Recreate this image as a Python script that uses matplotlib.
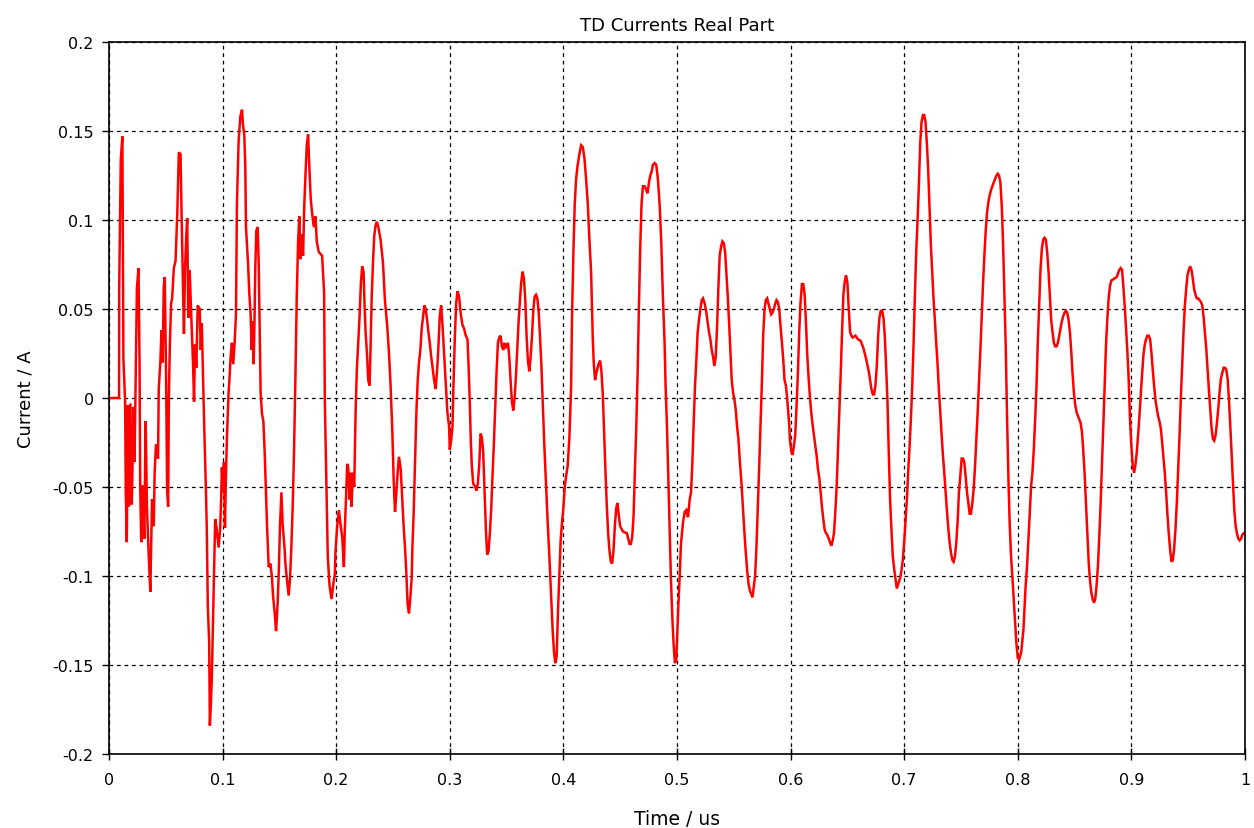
import numpy as np
import matplotlib
matplotlib.use('Agg')
import matplotlib.pyplot as plt

win_0 = [(0.0, 0.0), (0.0089, 0.0), (0.0090, 0.062), (0.0104, 0.134), (0.0118, 0.147), (0.0127, 0.022),
         (0.0142, -0.002), (0.0148, -0.053), (0.0157, -0.081), (0.0166, -0.004), (0.0178, -0.061),
         (0.0189, -0.003), (0.0201, -0.060), (0.0216, -0.005), (0.0225, -0.036), (0.0237, 0.020),
         (0.0246, 0.062), (0.0260, 0.073), (0.0269, 0.021), (0.0275, -0.050), (0.0284, -0.081),
         (0.0296, -0.049), (0.0311, -0.079), (0.0323, -0.013), (0.0334, -0.061), (0.0349, -0.087),
         (0.0364, -0.109), (0.0379, -0.057), (0.0394, -0.072), (0.0402, -0.042), (0.0414, -0.026),
         (0.0432, -0.034), (0.0438, 0.005), (0.0453, 0.021), (0.0462, 0.038), (0.0473, 0.020),
         (0.0482, 0.062), (0.0491, 0.068), (0.0503, 0.011), (0.0512, -0.052), (0.0521, -0.061),
         (0.0527, 0.000), (0.0536, 0.030), (0.0547, 0.053), (0.0556, 0.056), (0.0571, 0.073),
         (0.0586, 0.077), (0.0601, 0.103), (0.0615, 0.138), (0.0630, 0.137), (0.0639, 0.103),
         (0.0651, 0.065), (0.0660, 0.036), (0.0669, 0.072), (0.0681, 0.092), (0.0689, 0.101),
         (0.0698, 0.045), (0.0710, 0.072), (0.0728, 0.041), (0.0740, 0.019), (0.0749, -0.002),
         (0.0757, 0.030), (0.0769, 0.017), (0.0781, 0.052), (0.0799, 0.050), (0.0808, 0.027),
         (0.0817, 0.042), (0.0828, 0.012), (0.0840, -0.020), (0.0852, -0.048), (0.0861, -0.073),
         (0.0870, -0.117), (0.0882, -0.137), (0.0888, -0.184), (0.0897, -0.172), (0.0905, -0.158),
         (0.0917, -0.121), (0.0926, -0.094), (0.0935, -0.068), (0.0947, -0.073), (0.0965, -0.084)]

win_1 = [(0.0979, -0.073), (0.0988, -0.055), (0.0994, -0.039), (0.1003, -0.053), (0.1012, -0.036),
         (0.1021, -0.073), (0.1029, -0.045), (0.1038, -0.023), (0.1053, 0.003), (0.1059, 0.009),
         (0.1071, 0.023), (0.1082, 0.031), (0.1094, 0.019), (0.1106, 0.031), (0.1118, 0.047),
         (0.1126, 0.108), (0.1141, 0.144), (0.1156, 0.158), (0.1171, 0.162), (0.1179, 0.154),
         (0.1191, 0.148), (0.1200, 0.130), (0.1206, 0.096), (0.1224, 0.076), (0.1235, 0.059),
         (0.1247, 0.047), (0.1256, 0.027), (0.1265, 0.043), (0.1274, 0.019), (0.1282, 0.047),
         (0.1288, 0.073), (0.1297, 0.094), (0.1309, 0.096), (0.1318, 0.076), (0.1326, 0.041),
         (0.1335, 0.003), (0.1347, -0.009), (0.1359, -0.013), (0.1371, -0.031), (0.1391, -0.071),
         (0.1406, -0.095), (0.1421, -0.093), (0.1435, -0.101), (0.1444, -0.111), (0.1459, -0.121),
         (0.1471, -0.131), (0.1485, -0.115), (0.1494, -0.099), (0.1506, -0.071), (0.1518, -0.053),
         (0.1529, -0.071), (0.1544, -0.083), (0.1553, -0.093), (0.1568, -0.103), (0.1582, -0.111),
         (0.1594, -0.101), (0.1606, -0.083), (0.1618, -0.059), (0.1629, -0.030), (0.1641, 0.011),
         (0.1653, 0.057), (0.1665, 0.088), (0.1676, 0.102), (0.1685, 0.078), (0.1694, 0.092),
         (0.1709, 0.080), (0.1718, 0.106), (0.1729, 0.124), (0.1741, 0.142), (0.1753, 0.148),
         (0.1765, 0.128), (0.1776, 0.112), (0.1788, 0.104), (0.1803, 0.096), (0.1818, 0.102),
         (0.1829, 0.088), (0.1847, 0.082), (0.1876, 0.080), (0.1894, 0.059), (0.1900, -0.001),
         (0.1912, -0.041), (0.1926, -0.089), (0.1941, -0.105), (0.1959, -0.113), (0.1974, -0.105),
         (0.1988, -0.099)]

win_2 = [(0.1994, -0.086), (0.2009, -0.072), (0.2024, -0.063), (0.2038, -0.071), (0.2053, -0.078),
         (0.2068, -0.095), (0.2076, -0.074), (0.2088, -0.054), (0.2097, -0.037), (0.2106, -0.039),
         (0.2118, -0.057), (0.2126, -0.042), (0.2135, -0.061), (0.2147, -0.042), (0.2159, -0.050),
         (0.2171, -0.008), (0.2182, 0.016), (0.2194, 0.031), (0.2206, 0.046), (0.2218, 0.065),
         (0.2229, 0.074), (0.2241, 0.071), (0.2250, 0.052), (0.2259, 0.037), (0.2271, 0.025),
         (0.2282, 0.010), (0.2294, 0.007), (0.2303, 0.029), (0.2312, 0.055), (0.2324, 0.076),
         (0.2335, 0.091), (0.2347, 0.097), (0.2359, 0.099), (0.2371, 0.096), (0.2391, 0.089),
         (0.2412, 0.076), (0.2429, 0.055), (0.2450, 0.040), (0.2465, 0.025), (0.2479, 0.007),
         (0.2494, -0.018), (0.2506, -0.046), (0.2518, -0.064), (0.2529, -0.054), (0.2541, -0.042),
         (0.2553, -0.033), (0.2568, -0.040), (0.2582, -0.057), (0.2594, -0.072), (0.2606, -0.084),
         (0.2618, -0.099), (0.2629, -0.116), (0.2641, -0.121), (0.2653, -0.112), (0.2665, -0.101),
         (0.2671, -0.084), (0.2682, -0.065), (0.2694, -0.037), (0.2706, -0.008), (0.2718, 0.010),
         (0.2729, 0.020), (0.2741, 0.027), (0.2753, 0.039), (0.2765, 0.046), (0.2776, 0.052),
         (0.2788, 0.050), (0.2800, 0.044), (0.2812, 0.037), (0.2824, 0.031), (0.2835, 0.024),
         (0.2847, 0.018), (0.2862, 0.010), (0.2876, 0.005), (0.2891, 0.018), (0.2900, 0.029),
         (0.2912, 0.046), (0.2924, 0.052), (0.2935, 0.042), (0.2950, 0.025), (0.2965, 0.007),
         (0.2979, -0.008), (0.2994, -0.016)]

win_3 = [(0.3000, -0.029), (0.3012, -0.024), (0.3024, -0.016), (0.3032, 0.006), (0.3044, 0.033),
         (0.3056, 0.053), (0.3068, 0.060), (0.3082, 0.057), (0.3097, 0.047), (0.3112, 0.041),
         (0.3126, 0.039), (0.3141, 0.035), (0.3156, 0.033), (0.3165, 0.019), (0.3176, -0.002),
         (0.3185, -0.024), (0.3194, -0.038), (0.3206, -0.048), (0.3224, -0.050), (0.3235, -0.052),
         (0.3247, -0.048), (0.3259, -0.038), (0.3271, -0.020), (0.3282, -0.022), (0.3294, -0.030),
         (0.3306, -0.052), (0.3318, -0.074), (0.3329, -0.088), (0.3341, -0.086), (0.3353, -0.076),
         (0.3365, -0.062), (0.3376, -0.044), (0.3388, -0.026), (0.3400, -0.006), (0.3412, 0.015),
         (0.3424, 0.031), (0.3435, 0.034), (0.3447, 0.035), (0.3459, 0.029), (0.3471, 0.027),
         (0.3482, 0.031), (0.3494, 0.028), (0.3512, 0.031), (0.3524, 0.023), (0.3535, 0.010),
         (0.3547, -0.002), (0.3559, -0.007), (0.3571, 0.000), (0.3582, 0.012), (0.3594, 0.027),
         (0.3606, 0.043), (0.3618, 0.055), (0.3629, 0.065), (0.3641, 0.071), (0.3653, 0.067),
         (0.3665, 0.055), (0.3676, 0.035), (0.3688, 0.021), (0.3700, 0.015), (0.3712, 0.023),
         (0.3724, 0.035), (0.3735, 0.049), (0.3747, 0.057), (0.3759, 0.058), (0.3771, 0.056),
         (0.3782, 0.049), (0.3794, 0.035), (0.3806, 0.019), (0.3818, -0.002), (0.3832, -0.026),
         (0.3847, -0.048), (0.3862, -0.070), (0.3876, -0.088), (0.3891, -0.110), (0.3906, -0.131),
         (0.3918, -0.143), (0.3929, -0.149), (0.3941, -0.145), (0.3953, -0.119), (0.3965, -0.098),
         (0.3976, -0.080), (0.3988, -0.070), (0.4000, -0.062)]

win_4 = [(0.4012, -0.050), (0.4024, -0.044), (0.4038, -0.038), (0.4053, -0.022), (0.4068, 0.006),
         (0.4076, 0.045), (0.4088, 0.081), (0.4100, 0.109), (0.4112, 0.123), (0.4126, 0.131),
         (0.4141, 0.137), (0.4156, 0.142), (0.4171, 0.141), (0.4185, 0.135), (0.4200, 0.123),
         (0.4215, 0.109), (0.4229, 0.089), (0.4244, 0.071), (0.4259, 0.033), (0.4268, 0.019),
         (0.4279, 0.010), (0.4294, 0.015), (0.4309, 0.019), (0.4324, 0.021), (0.4335, 0.015),
         (0.4347, 0.002), (0.4359, -0.020), (0.4371, -0.042), (0.4382, -0.060), (0.4394, -0.076),
         (0.4406, -0.086), (0.4418, -0.092), (0.4429, -0.093), (0.4441, -0.086), (0.4453, -0.072),
         (0.4465, -0.062), (0.4476, -0.059), (0.4488, -0.066), (0.4500, -0.072), (0.4524, -0.075),
         (0.4559, -0.076), (0.4582, -0.082), (0.4594, -0.082), (0.4606, -0.078), (0.4618, -0.066),
         (0.4629, -0.042), (0.4641, -0.018), (0.4653, 0.012), (0.4665, 0.051), (0.4676, 0.083),
         (0.4688, 0.109), (0.4700, 0.119), (0.4715, 0.119), (0.4729, 0.117), (0.4741, 0.115),
         (0.4753, 0.121), (0.4765, 0.125), (0.4776, 0.127), (0.4788, 0.131), (0.4803, 0.132),
         (0.4818, 0.131), (0.4832, 0.123), (0.4847, 0.109), (0.4862, 0.087), (0.4876, 0.057),
         (0.4891, 0.031), (0.4900, 0.006), (0.4912, -0.016), (0.4924, -0.046), (0.4935, -0.072),
         (0.4947, -0.102), (0.4959, -0.123), (0.4971, -0.139), (0.4982, -0.149), (0.4994, -0.147)]

win_5 = [(0.5012, -0.117), (0.5024, -0.100), (0.5035, -0.082), (0.5053, -0.070), (0.5068, -0.064),
         (0.5082, -0.063), (0.5097, -0.067), (0.5112, -0.057), (0.5124, -0.053), (0.5135, -0.037),
         (0.5147, -0.014), (0.5159, 0.007), (0.5171, 0.022), (0.5182, 0.037), (0.5194, 0.044),
         (0.5206, 0.050), (0.5218, 0.055), (0.5229, 0.056), (0.5244, 0.053), (0.5259, 0.048),
         (0.5271, 0.042), (0.5282, 0.037), (0.5294, 0.033), (0.5306, 0.027), (0.5318, 0.023),
         (0.5329, 0.018), (0.5341, 0.023), (0.5353, 0.040), (0.5365, 0.063), (0.5376, 0.080),
         (0.5388, 0.085), (0.5400, 0.088), (0.5412, 0.087), (0.5424, 0.082), (0.5435, 0.070),
         (0.5447, 0.057), (0.5459, 0.042), (0.5471, 0.025), (0.5482, 0.010), (0.5494, 0.003),
         (0.5506, -0.001), (0.5518, -0.007), (0.5529, -0.016), (0.5541, -0.023), (0.5553, -0.035),
         (0.5568, -0.048), (0.5582, -0.063), (0.5594, -0.076), (0.5606, -0.087), (0.5618, -0.097),
         (0.5629, -0.104), (0.5641, -0.108), (0.5653, -0.110), (0.5665, -0.112), (0.5676, -0.106),
         (0.5688, -0.100), (0.5700, -0.083), (0.5712, -0.061), (0.5724, -0.038), (0.5735, -0.016),
         (0.5747, 0.008), (0.5759, 0.035), (0.5771, 0.050), (0.5782, 0.055), (0.5794, 0.056),
         (0.5806, 0.053), (0.5818, 0.050), (0.5829, 0.047), (0.5841, 0.048), (0.5853, 0.050),
         (0.5865, 0.053), (0.5876, 0.055), (0.5888, 0.054), (0.5900, 0.050), (0.5912, 0.040),
         (0.5924, 0.031), (0.5935, 0.022), (0.5947, 0.010), (0.5959, 0.007), (0.5971, -0.001)]

win_6 = [(0.5988, -0.015), (0.5994, -0.023), (0.6006, -0.030), (0.6018, -0.032), (0.6029, -0.027),
         (0.6041, -0.021), (0.6053, -0.004), (0.6065, 0.015), (0.6076, 0.037), (0.6088, 0.054),
         (0.6100, 0.064), (0.6112, 0.064), (0.6124, 0.058), (0.6135, 0.043), (0.6147, 0.024),
         (0.6159, 0.011), (0.6171, 0.000), (0.6182, -0.008), (0.6194, -0.015), (0.6206, -0.021),
         (0.6218, -0.027), (0.6229, -0.032), (0.6241, -0.040), (0.6253, -0.045), (0.6265, -0.053),
         (0.6276, -0.061), (0.6288, -0.068), (0.6300, -0.074), (0.6312, -0.076), (0.6324, -0.077),
         (0.6335, -0.079), (0.6347, -0.081), (0.6359, -0.083), (0.6371, -0.080), (0.6382, -0.076),
         (0.6394, -0.064), (0.6406, -0.049), (0.6418, -0.027), (0.6429, -0.008), (0.6441, 0.013),
         (0.6453, 0.037), (0.6465, 0.058), (0.6476, 0.065), (0.6488, 0.069), (0.6500, 0.065),
         (0.6512, 0.050), (0.6524, 0.037), (0.6535, 0.035), (0.6547, 0.034), (0.6571, 0.035),
         (0.6594, 0.033), (0.6618, 0.032), (0.6641, 0.028), (0.6665, 0.022), (0.6688, 0.015),
         (0.6712, 0.005), (0.6724, 0.002), (0.6735, 0.002), (0.6747, 0.007), (0.6759, 0.018),
         (0.6771, 0.035), (0.6782, 0.045), (0.6794, 0.049), (0.6806, 0.049), (0.6818, 0.045),
         (0.6829, 0.035), (0.6841, 0.018), (0.6853, -0.002), (0.6865, -0.032), (0.6876, -0.057),
         (0.6888, -0.074), (0.6900, -0.089), (0.6912, -0.096), (0.6935, -0.107)]

win_7 = [(0.6965, -0.101), (0.6976, -0.097), (0.6988, -0.091), (0.7000, -0.081), (0.7012, -0.069),
         (0.7024, -0.057), (0.7035, -0.042), (0.7047, -0.028), (0.7059, -0.012), (0.7071, 0.007),
         (0.7082, 0.029), (0.7094, 0.057), (0.7106, 0.082), (0.7118, 0.100), (0.7129, 0.119),
         (0.7141, 0.143), (0.7153, 0.155), (0.7165, 0.159), (0.7176, 0.159), (0.7188, 0.155),
         (0.7200, 0.143), (0.7212, 0.127), (0.7224, 0.106), (0.7235, 0.086), (0.7247, 0.070),
         (0.7259, 0.055), (0.7271, 0.043), (0.7282, 0.031), (0.7294, 0.019), (0.7306, 0.004),
         (0.7318, -0.008), (0.7329, -0.020), (0.7341, -0.032), (0.7353, -0.042), (0.7365, -0.053),
         (0.7376, -0.063), (0.7388, -0.073), (0.7400, -0.081), (0.7412, -0.087), (0.7424, -0.091),
         (0.7435, -0.092), (0.7447, -0.089), (0.7459, -0.081), (0.7471, -0.069), (0.7482, -0.053),
         (0.7494, -0.044), (0.7506, -0.034), (0.7518, -0.034), (0.7529, -0.036), (0.7541, -0.044),
         (0.7553, -0.053), (0.7565, -0.059), (0.7576, -0.065), (0.7588, -0.065), (0.7600, -0.059),
         (0.7612, -0.051), (0.7624, -0.038), (0.7635, -0.024), (0.7647, -0.008), (0.7659, 0.009),
         (0.7671, 0.027), (0.7682, 0.045), (0.7694, 0.064), (0.7706, 0.080), (0.7718, 0.094),
         (0.7729, 0.104), (0.7741, 0.110), (0.7753, 0.114), (0.7765, 0.117), (0.7776, 0.119),
         (0.7788, 0.121), (0.7800, 0.123), (0.7812, 0.125), (0.7824, 0.126), (0.7835, 0.125),
         (0.7847, 0.121), (0.7859, 0.108), (0.7871, 0.086), (0.7882, 0.059), (0.7894, 0.029),
         (0.7906, -0.012), (0.7918, -0.046), (0.7929, -0.071), (0.7941, -0.089), (0.7953, -0.101),
         (0.7965, -0.114), (0.7976, -0.126), (0.7988, -0.138), (0.8000, -0.146), (0.8012, -0.147)]

win_8 = [(0.8030, -0.143), (0.8050, -0.130), (0.8068, -0.107), (0.8082, -0.094), (0.8094, -0.079),
         (0.8106, -0.064), (0.8118, -0.049), (0.8129, -0.042), (0.8141, -0.029), (0.8153, -0.012),
         (0.8165, 0.007), (0.8176, 0.031), (0.8188, 0.052), (0.8200, 0.072), (0.8212, 0.084),
         (0.8224, 0.089), (0.8235, 0.090), (0.8247, 0.089), (0.8259, 0.082), (0.8271, 0.071),
         (0.8282, 0.058), (0.8294, 0.044), (0.8306, 0.037), (0.8318, 0.031), (0.8329, 0.029),
         (0.8341, 0.029), (0.8353, 0.031), (0.8365, 0.035), (0.8376, 0.039), (0.8388, 0.043),
         (0.8400, 0.046), (0.8412, 0.048), (0.8424, 0.049), (0.8435, 0.048), (0.8447, 0.044),
         (0.8459, 0.037), (0.8471, 0.026), (0.8482, 0.014), (0.8494, 0.003), (0.8506, -0.004),
         (0.8518, -0.008), (0.8529, -0.010), (0.8541, -0.012), (0.8553, -0.014), (0.8565, -0.019),
         (0.8576, -0.029), (0.8588, -0.042), (0.8600, -0.059), (0.8612, -0.077), (0.8624, -0.092),
         (0.8635, -0.102), (0.8647, -0.109), (0.8659, -0.113), (0.8671, -0.115), (0.8682, -0.113),
         (0.8694, -0.105), (0.8706, -0.094), (0.8718, -0.077), (0.8729, -0.060), (0.8741, -0.038),
         (0.8753, -0.016), (0.8765, 0.007), (0.8776, 0.029), (0.8788, 0.044), (0.8800, 0.056),
         (0.8812, 0.063), (0.8824, 0.066), (0.8847, 0.067), (0.8871, 0.068), (0.8882, 0.070),
         (0.8894, 0.072), (0.8906, 0.073), (0.8918, 0.072), (0.8929, 0.063), (0.8941, 0.052),
         (0.8953, 0.039), (0.8965, 0.026), (0.8976, 0.011)]

win_9 = [(0.8988, -0.012), (0.9000, -0.027), (0.9012, -0.038), (0.9024, -0.042), (0.9035, -0.038),
         (0.9047, -0.031), (0.9059, -0.021), (0.9071, -0.010), (0.9082, 0.001), (0.9094, 0.013),
         (0.9106, 0.024), (0.9118, 0.030), (0.9129, 0.033), (0.9141, 0.035), (0.9153, 0.035),
         (0.9165, 0.033), (0.9176, 0.026), (0.9188, 0.016), (0.9200, 0.007), (0.9212, -0.001),
         (0.9224, -0.006), (0.9235, -0.010), (0.9247, -0.013), (0.9259, -0.017), (0.9271, -0.025),
         (0.9282, -0.033), (0.9294, -0.042), (0.9306, -0.053), (0.9318, -0.066), (0.9329, -0.076),
         (0.9341, -0.085), (0.9353, -0.092), (0.9365, -0.091), (0.9376, -0.085), (0.9388, -0.074),
         (0.9400, -0.059), (0.9412, -0.040), (0.9424, -0.021), (0.9435, -0.001), (0.9447, 0.018),
         (0.9459, 0.037), (0.9471, 0.052), (0.9482, 0.061), (0.9494, 0.069), (0.9506, 0.072),
         (0.9518, 0.074), (0.9529, 0.072), (0.9541, 0.067), (0.9553, 0.061), (0.9565, 0.058),
         (0.9576, 0.056), (0.9588, 0.056), (0.9600, 0.055), (0.9612, 0.054), (0.9624, 0.052),
         (0.9635, 0.046), (0.9647, 0.037), (0.9659, 0.028), (0.9671, 0.016), (0.9682, 0.005),
         (0.9694, -0.006), (0.9706, -0.017), (0.9718, -0.023), (0.9729, -0.024), (0.9741, -0.021),
         (0.9753, -0.014), (0.9765, -0.006), (0.9776, 0.003), (0.9788, 0.011), (0.9800, 0.014),
         (0.9812, 0.017), (0.9824, 0.017), (0.9835, 0.016), (0.9847, 0.011), (0.9859, -0.001),
         (0.9871, -0.016), (0.9882, -0.031), (0.9894, -0.048), (0.9906, -0.063), (0.9918, -0.072),
         (0.9929, -0.076), (0.9941, -0.079), (0.9953, -0.080), (0.9965, -0.079), (0.9976, -0.077),
         (0.9988, -0.076), (1.0000, -0.076)]

x_ticks = [0, 0.1, 0.2, 0.3, 0.4, 0.5, 0.6, 0.7, 0.8, 0.9, 1]
y_ticks = [-0.2, -0.15, -0.1, -0.05, 0, 0.05, 0.1, 0.15, 0.2]

trace = win_0 + win_1 + win_2 + win_3 + win_4 + win_5 + win_6 + win_7 + win_8 + win_9
t = np.array([p[0] for p in trace])
cur = np.array([p[1] for p in trace])

plt.rcParams['font.family'] = ['DejaVu Sans']
fs = 11.5

fig = plt.figure(figsize=(12.54, 8.29), dpi=100)
ax = fig.add_axes([0.0869, 0.0893, 0.9059, 0.8588])

ax.plot(t, cur, color='#ff0000', lw=1.8, solid_joinstyle='miter')

ax.set_xlim(0, 1)
ax.set_ylim(-0.2, 0.2)
ax.set_xticks(x_ticks)
ax.set_yticks(y_ticks)
ax.set_xticklabels(['%g' % v for v in x_ticks], fontsize=fs)
ax.set_yticklabels(['%g' % v for v in y_ticks], fontsize=fs)
ax.tick_params(axis='x', direction='inout', length=8, width=1, pad=9)
ax.tick_params(axis='y', direction='out', length=5, width=1, pad=6)

ax.grid(True, color='black', linestyle=(0, (3, 3)), linewidth=0.9)
for s in ax.spines.values():
    s.set_linewidth(1.2)
    s.set_color('black')

ax.set_title('TD Currents Real Part', fontsize=13, pad=9)
ax.set_xlabel('Time / us', fontsize=13.5, labelpad=16)
ax.set_ylabel('Current / A', fontsize=13, labelpad=13)

fig.savefig('out.png', dpi=100, facecolor='white')
